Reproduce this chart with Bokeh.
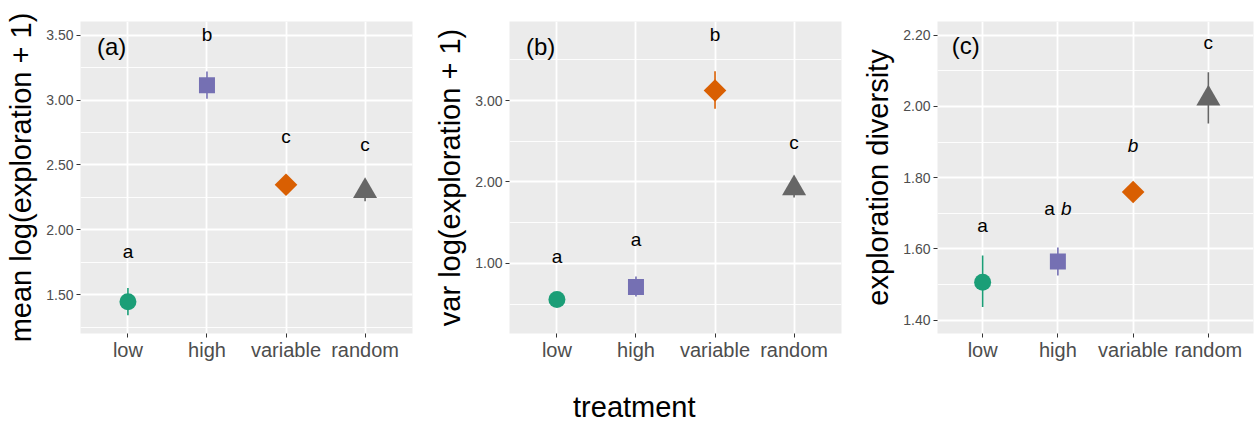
import math
from bokeh.plotting import figure
from bokeh.models import FactorRange, Range1d, FixedTicker, PrintfTickFormatter, ColumnDataSource
from bokeh.layouts import row, column
from bokeh.embed import file_html
from bokeh.resources import INLINE
from bokeh.core.properties import value

FONT = "Liberation Sans"

treatments = ["low", "high", "variable", "random"]
colors = ["#1B9E77", "#7570B3", "#D95F02", "#666666"]
shapes = ["circle", "square", "diamond", "triangle"]

# panel (a)
a_mean = [1.445, 3.115, 2.347, 2.298]
a_lo = [1.34, 3.01, 2.33, 2.22]
a_hi = [1.55, 3.22, 2.37, 2.36]
a_letters = [[("a", False)], [("b", False)], [("c", False)], [("c", False)]]
a_letter_y = [1.783, 3.452, 2.665, 2.609]
a_ticks = [1.5, 2.0, 2.5, 3.0, 3.5]
a_minor = [1.25, 1.75, 2.25, 2.75, 3.25]
a_ylim = [1.20, 3.606]
a_ylabel = "mean log(exploration + 1)"
a_tag = "(a)"
a_tag_y = 3.347

# panel (b)
b_mean = [0.558, 0.71, 3.123, 1.921]
b_lo = [0.53, 0.595, 2.90, 1.81]
b_hi = [0.58, 0.84, 3.36, 2.03]
b_letters = [[("a", False)], [("a", False)], [("b", False)], [("c", False)]]
b_letter_y = [1.00, 1.21, 3.728, 2.407]
b_ticks = [1.0, 2.0, 3.0]
b_minor = [0.5, 1.5, 2.5, 3.5]
b_ylim = [0.14, 3.97]
b_ylabel = "var log(exploration + 1)"
b_tag = "(b)"
b_tag_y = 3.561

# panel (c)
c_mean = [1.507, 1.565, 1.760, 2.022]
c_lo = [1.437, 1.526, 1.75, 1.952]
c_hi = [1.582, 1.604, 1.77, 2.096]
c_letters = [[("a", False)], [("a", False), ("b", True)], [("b", True)], [("c", False)]]
c_letter_y = [1.647, 1.694, 1.872, 2.161]
c_ticks = [1.4, 1.6, 1.8, 2.0, 2.2]
c_minor = [1.5, 1.7, 1.9, 2.1]
c_ylim = [1.363, 2.238]
c_ylabel = "exploration diversity"
c_tag = "(c)"
c_tag_y = 2.146

x_title = "treatment"

SIZES = {"circle": 17, "square": 16, "diamond": 16, "triangle": 24}
LETTER_PX = 19
TAG_PX = 24


def panel(width, border_left, border_right, mean, lo, hi, letters, letter_y,
          ticks, minor, ylim, ylabel, tag, tag_y):
    p = figure(width=width, height=370,
               x_range=FactorRange(factors=treatments, range_padding=0.1,
                                   range_padding_units="absolute"),
               y_range=Range1d(ylim[0], ylim[1]),
               output_backend="svg", toolbar_location=None,
               min_border_left=border_left, min_border_right=border_right,
               min_border_top=21, min_border_bottom=37)
    p.background_fill_color = "#EBEBEB"
    p.border_fill_color = "white"
    p.outline_line_color = None

    p.yaxis.ticker = FixedTicker(ticks=ticks, minor_ticks=minor)
    p.yaxis.formatter = PrintfTickFormatter(format="%.2f")
    for ax in (p.xaxis[0], p.yaxis[0]):
        ax.axis_line_color = None
        ax.major_tick_in = 0
        ax.major_tick_out = 4
        ax.minor_tick_in = 0
        ax.minor_tick_out = 0
        ax.major_tick_line_color = "#333333"
        ax.major_tick_line_width = 1
        ax.major_label_text_color = "#4D4D4D"
        ax.major_label_text_font = FONT
    p.yaxis.major_label_text_font_size = "14px"
    p.yaxis.major_label_standoff = 3
    p.xaxis.major_label_text_font_size = "20px"
    p.xaxis.major_label_standoff = 1
    p.yaxis.axis_label = ylabel
    p.yaxis.axis_label_text_font = FONT
    p.yaxis.axis_label_text_font_size = "29px"
    p.yaxis.axis_label_text_font_style = "normal"
    p.yaxis.axis_label_text_color = "black"
    p.yaxis.axis_label_standoff = 6

    p.xgrid.grid_line_color = "white"
    p.xgrid.grid_line_width = 1.8
    p.ygrid.grid_line_color = "white"
    p.ygrid.grid_line_width = 1.8
    p.ygrid.minor_grid_line_color = "white"
    p.ygrid.minor_grid_line_width = 0.9

    # error bars
    p.segment(x0=treatments, y0=lo, x1=treatments, y1=hi,
              line_color=colors, line_width=1.6)

    # points
    src = ColumnDataSource(dict(
        x=treatments, y=mean, color=colors,
        marker=["square" if s == "diamond" else s for s in shapes],
        angle=[math.pi / 4 if s == "diamond" else 0.0 for s in shapes],
        size=[SIZES[s] for s in shapes],
    ))
    p.scatter(x="x", y="y", marker="marker", size="size", angle="angle",
              fill_color="color", line_color=None, source=src)

    # significance letters
    common = dict(text_baseline="alphabetic", text_font=value(FONT),
                  text_font_size=f"{LETTER_PX}px", text_color="black",
                  y_offset=-0.35 * LETTER_PX)
    for t, toks, ly in zip(treatments, letters, letter_y):
        if len(toks) == 1:
            txt, it = toks[0]
            p.text(x=[t], y=[ly], text=[txt], text_align="center",
                   text_font_style="italic" if it else "normal", **common)
        else:
            (t1, i1), (t2, i2) = toks
            p.text(x=[t], y=[ly], text=[t1], text_align="right", x_offset=-3,
                   text_font_style="italic" if i1 else "normal", **common)
            p.text(x=[t], y=[ly], text=[t2], text_align="left", x_offset=3,
                   text_font_style="italic" if i2 else "normal", **common)

    # panel tag
    p.text(x=[treatments[0]], y=[tag_y], text=[tag], text_align="left",
           x_offset=-31, y_offset=-0.35 * TAG_PX, text_baseline="alphabetic",
           text_font=value(FONT), text_font_size=f"{TAG_PX}px", text_color="black")
    return p


p1 = panel(428, 80, 16, a_mean, a_lo, a_hi, a_letters, a_letter_y,
           a_ticks, a_minor, a_ylim, a_ylabel, a_tag, a_tag_y)
p2 = panel(422, 81, 9, b_mean, b_lo, b_hi, b_letters, b_letter_y,
           b_ticks, b_minor, b_ylim, b_ylabel, b_tag, b_tag_y)
p3 = panel(405, 87, 2, c_mean, c_lo, c_hi, c_letters, c_letter_y,
           c_ticks, c_minor, c_ylim, c_ylabel, c_tag, c_tag_y)

p4 = figure(width=1255, height=53, x_range=Range1d(0, 1255), y_range=Range1d(0, 53),
            output_backend="svg", toolbar_location=None,
            min_border_left=0, min_border_right=0, min_border_top=0, min_border_bottom=0)
p4.axis.visible = False
p4.grid.visible = False
p4.outline_line_color = None
p4.background_fill_color = "white"
p4.border_fill_color = "white"
p4.text(x=[633.8], y=[16.5], text=[x_title], text_align="center",
        text_baseline="alphabetic", text_font=value(FONT),
        text_font_size="29px", text_color="black")

layout = column(row(p1, p2, p3), p4)
open("out.html", "w").write(file_html(layout, INLINE))
